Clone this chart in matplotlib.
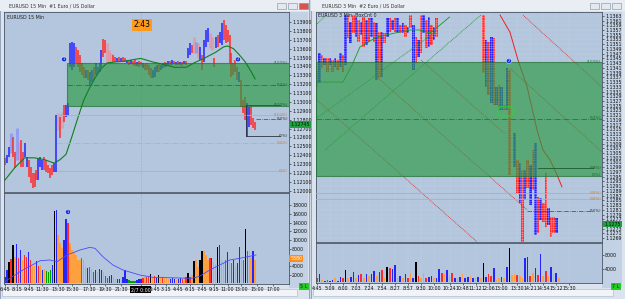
import numpy as np
import matplotlib.pyplot as plt
import matplotlib.transforms as mtransforms
from matplotlib.patches import Rectangle, FancyBboxPatch

# ---------------- left chart : EURUSD 15 min ----------------
hi_l = [1.1237, 1.1240, 1.1249, 1.1265, 1.1261, 1.1244, 1.1271, 1.1255, 1.1257, 1.1244,
        1.1254, 1.1238, 1.1235, 1.1227, 1.1220, 1.1220, 1.1223, 1.1237, 1.1238, 1.1235,
        1.1238, 1.1235, 1.1229, 1.1226, 1.1229, 1.1231, 1.1285, 1.1288, 1.1283, 1.1289,
        1.1297, 1.1297, 1.1299, 1.1366, 1.1367, 1.1366, 1.1362, 1.1358, 1.1353, 1.1344,
        1.1339, 1.1336, 1.1336, 1.1334, 1.1336, 1.1339, 1.1344, 1.1339, 1.1344, 1.1358,
        1.1371, 1.1370, 1.1366, 1.1358, 1.1355, 1.1353, 1.1351, 1.1349, 1.1351, 1.1349,
        1.1351, 1.1349, 1.1347, 1.1347, 1.1347, 1.1346, 1.1347, 1.1345, 1.1346, 1.1345,
        1.1344, 1.1343, 1.1344, 1.1342, 1.1338, 1.1336, 1.1339, 1.1342, 1.1344, 1.1342,
        1.1344, 1.1345, 1.1344, 1.1346, 1.1346, 1.1347, 1.1346, 1.1345, 1.1346, 1.1345,
        1.1345, 1.1346, 1.1346, 1.1361, 1.1366, 1.1364, 1.1373, 1.1367, 1.1366, 1.1362,
        1.1353, 1.1370, 1.1381, 1.1383, 1.1378, 1.1373, 1.1349, 1.1373, 1.1375, 1.1379,
        1.1389, 1.1392, 1.1387, 1.1381, 1.1375, 1.1355, 1.1344, 1.1347, 1.1339, 1.1334,
        1.1325, 1.1302, 1.1306, 1.1299, 1.1294, 1.1297, 1.1282, 1.1277]
lo_l = [1.1229, 1.1231, 1.1238, 1.1243, 1.1238, 1.1226, 1.1235, 1.1235, 1.1227, 1.1227,
        1.1238, 1.1227, 1.1215, 1.1209, 1.1203, 1.1204, 1.1212, 1.1212, 1.1227, 1.1223,
        1.1223, 1.1221, 1.1220, 1.1214, 1.1218, 1.1221, 1.1221, 1.1268, 1.1259, 1.1271,
        1.1277, 1.1283, 1.1285, 1.1339, 1.1336, 1.1339, 1.1344, 1.1339, 1.1334, 1.1330,
        1.1327, 1.1327, 1.1325, 1.1319, 1.1322, 1.1325, 1.1330, 1.1333, 1.1334, 1.1339,
        1.1351, 1.1355, 1.1345, 1.1344, 1.1344, 1.1345, 1.1345, 1.1345, 1.1345, 1.1345,
        1.1345, 1.1345, 1.1344, 1.1342, 1.1343, 1.1342, 1.1340, 1.1340, 1.1339, 1.1340,
        1.1338, 1.1336, 1.1336, 1.1330, 1.1327, 1.1327, 1.1328, 1.1334, 1.1334, 1.1336,
        1.1338, 1.1339, 1.1339, 1.1342, 1.1340, 1.1342, 1.1343, 1.1342, 1.1342, 1.1342,
        1.1340, 1.1343, 1.1342, 1.1349, 1.1353, 1.1355, 1.1355, 1.1355, 1.1349, 1.1347,
        1.1336, 1.1345, 1.1362, 1.1367, 1.1361, 1.1358, 1.1339, 1.1361, 1.1362, 1.1366,
        1.1364, 1.1370, 1.1366, 1.1367, 1.1344, 1.1328, 1.1330, 1.1334, 1.1325, 1.1322,
        1.1294, 1.1288, 1.1280, 1.1261, 1.1272, 1.1274, 1.1271, 1.1268]
col_l = ("rbblrrlprr" "bbrrrrrbbb" "rrrrrbbprp" "rbbbbbrrrr" "rbrbbrbbbb" "rrppprrbrb"
         "rrbrbrrbrr" "brrrrbbbrb" "brbbrbrbrb" "rbrbbrplpb" "rbbbpprbrb" "brrrrrrrrb"
         "rrrbbrrr")

ma_l_x = [0, 5, 10, 15, 20, 25, 28, 31, 34, 37, 40, 43, 46, 49, 52, 56, 61, 66, 69, 72,
          75, 81, 86, 92, 96, 101, 107, 111, 113, 116, 119, 122, 125, 127]
ma_l_y = [1.1212, 1.1226, 1.1237, 1.1237, 1.1235, 1.1231, 1.1235, 1.1241, 1.1261, 1.1282,
          1.1302, 1.1316, 1.1328, 1.1338, 1.1344, 1.1345, 1.1346, 1.1348, 1.1349, 1.1347,
          1.1345, 1.1342, 1.1339, 1.1339, 1.1344, 1.1349, 1.1356, 1.1362, 1.1363, 1.1360,
          1.1353, 1.1345, 1.1334, 1.1326]

vol_l = [1380, 3070, 4990, 5540, 8840, 6140, 9070, 5770, 7680, 5380,
         6530, 6140, 7290, 5380, 3990, 3990, 5220, 3990, 4220, 3070,
         3230, 2910, 2680, 3070, 4220, 16750, 16900, 11140, 9230, 8070,
         9990, 14760, 13840, 9230, 7680, 7290, 6530, 5380, 5380, 5770,
         5380, 3830, 3460, 3690, 3230, 2680, 3070, 2680, 3230, 3070,
         2680, 1680, 1150, 1680, 1910, 1530, 920, 1070, 920, 760,
         1380, 3070, 920, 760, 600, 600, 600, 760, 920, 920,
         1150, 1380, 1380, 1680, 2140, 1380, 1680, 1150,
         1910, 1380, 1380, 1150, 1150, 920, 920, 1150, 920, 760,
         920, 1150, 920, 1380, 1380, 2450, 1380, 1910, 5220, 5380,
         3830, 5380, 7530, 7530, 6530, 5380, 5770, 5770, 4990, 4450,
         8450, 8840, 5380, 4990, 5380, 7290, 4990, 4610, 5380, 3990,
         4610, 8300, 5380, 5380, 12450, 7530, 7290, 6140, 7530, 5380]
vcol_l = ("bbkrkobrbo" "rrbroobrob" "ogggbkbooo" "bbroooooor" "oobrogbobb"
          "oggbboobbo" "bbbggggbbb" "rorrkorb"
          "korooobbbo" "bbrorkroko" "okkooorboo" "kboorborbo" "bborkroobo")
ma_v_x = [0, 7.6, 17.8, 22.8, 26.4, 31.5, 38.1, 43.1, 45.7, 49.7, 54.8, 59.9, 68.5,
          75.1, 95.4, 99, 104, 109, 114.2, 119.3, 127.4]
ma_v_y = [415, 2680, 5210, 5380, 4980, 6530, 7680, 8300, 8070, 6140, 4220, 3070, 1910,
          1380, 1150, 1680, 3070, 4220, 5380, 5770, 6530]

tick_l_pos = [0, 6, 12, 19, 27, 34, 43, 51, 59, 69, 76, 82, 88, 94, 100, 106, 113, 120, 128, 136]
tick_l_lab = ['6:45', '8:15', '9:45', '11:30', '13:30', '15:30', '17:30', '19:30', '21:30',
              '2/7 0:00', '1:45', '3:15', '4:45', '6:15', '7:45', '9:15', '11:00', '13:00',
              '15:00', '17:00']

zone = (1.12955, 1.13435)
# ---------------- right chart : EURUSD 3 min box chart ----------------
col_k = list(range(0, 47)) + list(range(64, 75)) + list(range(76, 93))
hi_r = [1.13401, 1.13473, 1.13464, 1.13451, 1.13451, 1.13451, 1.13443, 1.13451, 1.13443, 1.13473,
        1.13464, 1.13633, 1.13633, 1.13603, 1.13633, 1.13625, 1.13612, 1.13603, 1.13625, 1.13612,
        1.13620, 1.13620, 1.13603, 1.13599, 1.13561, 1.13561, 1.13557, 1.13620, 1.13620, 1.13612,
        1.13620, 1.13620, 1.13591, 1.13599, 1.13591, 1.13582, 1.13633, 1.13591, 1.13540, 1.13527,
        1.13633, 1.13633, 1.13612, 1.13625, 1.13591, 1.13582, 1.13620,
        1.13633, 1.13527, 1.13519, 1.13540, 1.13536, 1.13329, 1.13338, 1.13329, 1.13253, 1.13409,
        1.13401,
        1.13135, 1.13021, 1.13008, 1.12979, 1.12979, 1.13021, 1.12999, 1.13063, 1.13093, 1.12865,
        1.12861, 1.12840, 1.12966, 1.12818, 1.12780, 1.12780, 1.12776]
lo_r = [1.13329, 1.13346, 1.13409, 1.13422, 1.13392, 1.13422, 1.13392, 1.13413, 1.13401, 1.13413,
        1.13392, 1.13422, 1.13536, 1.13515, 1.13557, 1.13540, 1.13519, 1.13549, 1.13498, 1.13506,
        1.13519, 1.13540, 1.13519, 1.13359, 1.13367, 1.13371, 1.13515, 1.13540, 1.13561, 1.13570,
        1.13561, 1.13557, 1.13557, 1.13557, 1.13540, 1.13557, 1.13578, 1.13401, 1.13430, 1.13456,
        1.13473, 1.13557, 1.13494, 1.13498, 1.13506, 1.13527, 1.13540,
        1.13388, 1.13329, 1.13295, 1.13262, 1.13253, 1.13253, 1.13232, 1.13232, 1.13232, 1.13232,
        1.12958,
        1.12991, 1.12882, 1.12840, 1.12675, 1.12852, 1.12903, 1.12831, 1.12894, 1.12705, 1.12713,
        1.12768, 1.12759, 1.12738, 1.12747, 1.12696, 1.12713, 1.12713]
col_r = ("rbrbrbrbrb" "rbrbrbrbrb" "rbrbrbrbrb" "rbrbrbrbrb" "rbrbrbr"
         "rbrbrbrbrbr"
         "brbrbrbrbr" "brrbrrb")

vol_r = [1100, 2390, 600, 390, 600, 390, 600, 1100, 390, 1580,
         1100, 3580, 1100, 1580, 3080, 1100, 2090, 2390, 1100, 2390,
         1790, 2390, 3380, 1790, 3080, 3580, 1100, 4580, 4090, 3780,
         5070, 1100, 1790, 1100, 2390, 1100, 2590, 1100, 5970, 1790,
         1100, 2780, 1100, 1580, 1790, 1100, 1100, 3780, 2780, 2590,
         3580, 1790, 2780, 1100, 1100, 1580, 2390, 1100, 1580, 1790,
         1100, 1100, 1580, 1100, 5770, 1580, 2390, 1790, 4090, 600,
         1100, 1580, 1100, 4580, 10240, 2090, 2390, 2090, 1790, 1100,
         7070, 7370, 1790, 2780, 4090, 2090, 8360, 1790, 3380, 1790,
         4580, 2390, 2780, 1100]
vcol_r = ("rbobrbbobb" "rkobbobrob" "obbobrokrb" "bobobrobkr" "oorbbobbro"
          "borbobobbo" "bobokbrrbo" "obobkooroo" "bbrobrboro" "bobo")

ma_r_g_x = [0, 10, 13.5, 16.5, 23, 30, 35.8, 39.6, 43.5, 47.3, 51]
ma_r_g_y = [1.13350, 1.13350, 1.13422, 1.13498, 1.13540, 1.13557, 1.13570, 1.13570, 1.13557,
            1.13591, 1.13625]
ma_r_r_x = [70.4, 74.2, 77.3, 80.8, 84.6, 86.9, 89.6, 92.3, 94.2]
ma_r_r_y = [1.13633, 1.13561, 1.13443, 1.13329, 1.13148, 1.13063, 1.13021, 1.12958, 1.12907]

# trend lines (k0, p0, k1, p1, colour)
trend_r = [(-0.4, 1.13591, 3.5, 1.13633, 'g'), (3.1, 1.13063, 63.0, 1.13633, 'g'),
           (0.0, 1.13198, 45.4, 1.13561, 'g'),
           (0.0, 1.13274, 61.5, 1.12675, 'r'), (23.5, 1.13367, 80.8, 1.12810, 'r'),
           (40.0, 1.13443, 72.3, 1.13131, 'r'), (74.2, 1.13409, 109.6, 1.13054, 'r'),
           (79.2, 1.13633, 109.6, 1.13329, 'r')]

tick_r_pos = [0, 5, 10, 15, 20, 25, 30, 35, 40, 45, 51, 56, 61, 66, 71, 77, 82, 87, 92, 97]
tick_r_lab = ['4:45', '5:09', '6:00', '7:03', '7:24', '7:54', '8:27', '8:57', '9:30', '10:00',
              '10:24', '10:48', '11:12', '12:06', '13:00', '13:30', '14:21', '14:54', '15:12',
              '15:30']

# ------------------------------------------------------------------
W, H = 625, 299
fig = plt.figure(figsize=(W / 100, H / 100), dpi=100)
fig.patch.set_facecolor('#cdd8e6')
plt.rcParams['hatch.linewidth'] = 0.15

BG = '#b3c6dd'
GREEN = '#2f9a47'
clr = {'r': '#ff2a2a', 'b': '#2424ff', 'p': '#f08a96', 'l': '#7f86ff',
       'o': '#ffa040', 'k': '#000000', 'g': '#00a000'}
FS = 3.4


def px_axes(x0, y0, x1, y1):
    return fig.add_axes([x0 / W, 1 - y1 / H, (x1 - x0) / W, (y1 - y0) / H])


# window chrome
bg = fig.add_axes([0, 0, 1, 1], zorder=-5)
bg.set_xlim(0, W)
bg.set_ylim(H, 0)
bg.axis('off')
for x0, x1 in [(0, 309), (311, 625)]:
    bg.add_patch(Rectangle((x0, 0), x1 - x0, H, fc='#dbe3ee', ec='#8a9bb3', lw=0.6))
    bg.add_patch(Rectangle((x0, 0), x1 - x0, 11, fc='#e9eef5', ec='none'))
    bg.add_patch(Rectangle((x0 + 2, 289), x1 - x0 - 14, 7, fc='#f0f3f7', ec='#a8b5c6', lw=0.4))
bg.add_patch(Rectangle((289, 12), 19, 276, fc='#c2d1e3', ec='none'))
bg.add_patch(Rectangle((602, 12), 20, 276, fc='#c2d1e3', ec='none'))
bg.text(9, 6, 'EURUSD 15 Min  #1 Euro / US Dollar', fontsize=FS, va='center', color='#333333')
bg.text(322, 6, 'EURUSD 3 Min  #2 Euro / US Dollar', fontsize=FS, va='center', color='#333333')
for xb, fc in [(277, '#e4e9f0'), (288, '#e4e9f0'), (299, '#d9534f')]:
    bg.add_patch(Rectangle((xb, 3), 9, 6, fc=fc, ec='#7d8ba0', lw=0.4))
for xb in [590, 601, 612]:
    bg.add_patch(Rectangle((xb, 3), 9, 6, fc='#e4e9f0', ec='#7d8ba0', lw=0.4))
for xb, t in [(300, '5 L'), (612, '7 L')]:
    bg.text(xb + 4, 286.5, t, fontsize=FS, ha='center', va='center', color='#003300',
            bbox=dict(boxstyle='square,pad=0.25', fc='#22cc22', ec='none'))


def style(ax, xlim, ylim):
    ax.set_facecolor(BG)
    ax.set_xlim(*xlim)
    ax.set_ylim(*ylim)
    for s in ax.spines.values():
        s.set_color('#4a5564')
        s.set_linewidth(0.6)
    ax.yaxis.tick_right()
    ax.tick_params(axis='both', labelsize=FS, length=1.2, width=0.4, pad=1, colors='#111111')


# ---- left price panel
axp = px_axes(4, 12, 289, 192)
style(axp, (-0.5, 144.2), (1.11985, 1.14013))
axp.set_xticks([])
axp.set_yticks(np.arange(1.120, 1.1395, 0.001))
axp.yaxis.set_major_formatter(plt.FormatStrFormatter('%.5f'))
idx = np.arange(len(hi_l))
hi_a, lo_a = np.array(hi_l), np.array(lo_l)
for c, lw, a in [('p', 2.2, 0.6), ('l', 2.2, 0.6), ('r', 1.1, 1), ('b', 1.1, 1)]:
    m = np.array([ch == c for ch in col_l])
    axp.vlines(idx[m], lo_a[m], hi_a[m], color=clr[c], lw=lw, alpha=a, zorder=2)
axp.add_patch(Rectangle((31.6, zone[0]), 200, zone[1] - zone[0], fc=GREEN, alpha=0.68,
                        ec='#1f6e30', lw=0.8, zorder=3))
axp.plot([31.6, 145], [sum(zone) / 2] * 2, color='#1f7a2f', lw=0.6, ls='-.', zorder=4)
axp.plot(ma_l_x, ma_l_y, color='#0f7f1f', lw=0.8, zorder=4)
axp.axvline(69, color='#8c98a8', lw=0.4, ls=':', zorder=1)
# fib levels
axp.plot([26.4, 141], [1.12853] * 2, color='#f0a060', lw=0.6, zorder=4)
axp.plot([26.4, 141], [1.12534] * 2, color='#f0a060', lw=0.6, ls='-.', zorder=4)
axp.plot([26.4, 141], [1.12222] * 2, color='#f0a060', lw=0.6, zorder=4)
axp.plot([122.3, 122.3, 139.6], [1.1297, 1.12616, 1.12616], color='#2c3440', lw=0.6, zorder=4)
axp.plot([122.3, 139.6], [1.1297] * 2, color='#1f5a2a', lw=0.6, zorder=4)
axp.plot([127.4, 139.6], [1.12804] * 2, color='#3c4450', lw=0.5, ls='-.', zorder=4)
for p, t, c in [(1.13435, '(100%)', '#1f6e30'), (1.13195, '(50%)', '#1f6e30'),
                (1.1297, '(100%)', '#1f5a2a'), (1.12853, '(100%)', '#d08040'),
                (1.12804, '(50%)', '#333333'), (1.12616, '(0%)', '#333333'),
                (1.12534, '(50%)', '#d08040'), (1.12222, '(0%)', '#d08040')]:
    axp.text(143.8, p, t, fontsize=2.8, color=c, ha='right', va='center', zorder=5)
for i, p, t in [(30, 1.1348, '1'), (118.3, 1.1348, '2')]:
    axp.text(i, p, t, fontsize=2.6, color='white', ha='center', va='center', zorder=6,
             bbox=dict(boxstyle='circle,pad=0.15', fc='#1030e0', ec='white', lw=0.3))
axp.text(69.5, 1.1387, '2:43', fontsize=5.5, ha='center', va='center', zorder=6,
         bbox=dict(boxstyle='square,pad=0.2', fc='#ff9a1a', ec='none'))
axp.text(0.012, 0.985, 'EURUSD 15 Min', transform=axp.transAxes, fontsize=FS, va='top',
         color='#222222')
trl = mtransforms.blended_transform_factory(axp.transAxes, axp.transData)
axp.text(1.005, 1.12745, '1.12745', transform=trl, fontsize=FS, va='center', color='#002200',
         bbox=dict(boxstyle='square,pad=0.2', fc='#20a040', ec='none'), zorder=6)

# ---- left volume panel
axv = px_axes(4, 193, 289, 284)
style(axv, (-0.5, 144.2), (-160, 20830))
vidx = np.arange(len(vol_l))
axv.bar(vidx, vol_l, width=0.7, color=[clr[c] for c in vcol_l], zorder=2)
axv.plot(ma_v_x, ma_v_y, color='#4a4aff', lw=0.6, zorder=3)
axv.axvline(69, color='#8c98a8', lw=0.4, ls=':', zorder=1)
axv.set_yticks([2000, 4000, 8000, 10000, 12000, 14000, 16000, 18000])
axv.set_xticks(tick_l_pos)
axv.set_xticklabels(tick_l_lab)
for lab in axv.get_xticklabels():
    if lab.get_text().startswith('2/7'):
        lab.set_color('white')
        lab.set_bbox(dict(boxstyle='square,pad=0.15', fc='black', ec='none'))
axv.text(32, 16450, '1', fontsize=2.6, color='white', ha='center', va='center', zorder=6,
         bbox=dict(boxstyle='circle,pad=0.15', fc='#1030e0', ec='white', lw=0.3))
trv = mtransforms.blended_transform_factory(axv.transAxes, axv.transData)
axv.text(1.005, 5800, '5380', transform=trv, fontsize=FS, va='center', color='white',
         bbox=dict(boxstyle='square,pad=0.2', fc='#ff8c1a', ec='none'), zorder=6)

# ---- right price panel
axr = px_axes(316, 12, 602, 242)
style(axr, (-0.38, 109.6), (1.12674, 1.13646))
axr.set_xticks(tick_r_pos)
axr.tick_params(axis='x', labelbottom=False, length=0)
axr.set_yticks(np.arange(1.1269, 1.13635, 0.0002))
axr.yaxis.set_major_formatter(plt.FormatStrFormatter('%.4f'))
axr.grid(True, color='#c3d1e3', lw=0.35, zorder=0)
for k, h, l, c in zip(col_k, hi_r, lo_r, col_r):
    axr.bar(k, h - l, bottom=l, width=1.0, color=clr[c], edgecolor='white', lw=0,
            hatch='+++++++', zorder=2)
for k0, p0, k1, p1, c in trend_r:
    axr.plot([k0, k1], [p0, p1], color='#0f9a1f' if c == 'g' else '#ee2020', lw=0.6,
             ls=(0, (1, 1)), zorder=2.5)
axr.plot(ma_r_g_x, ma_r_g_y, color='#129a22', lw=0.6, zorder=2.6)
axr.plot(ma_r_r_x, ma_r_r_y, color='#ee2020', lw=0.7, zorder=2.6)
axr.axhspan(zone[0], zone[1], fc=GREEN, alpha=0.68, ec='#1f6e30', lw=0.8, zorder=3)
axr.axhline(sum(zone) / 2, color='#1f7a2f', lw=0.6, ls='-.', zorder=4)
axr.plot([85, 106], [1.12986] * 2, color='#1f5a2a', lw=0.6, zorder=4)
axr.axhline(1.12880, color='#f0a060', lw=0.6, zorder=4)
axr.axhline(1.12855, color='#f0a060', lw=0.6, zorder=4)
axr.plot([80.8, 106], [1.12805] * 2, color='#3c4450', lw=0.5, ls='-.', zorder=4)
for p, t, c in [(1.13436, '(100%)', '#1f6e30'), (1.13197, '(50%)', '#1f6e30'),
                (1.12986, '(38%)', '#1f5a2a'), (1.12958, '(0%)', '#1f6e30'),
                (1.12880, '(38%)', '#d08040'), (1.12855, '(38%)', '#d08040'),
                (1.12805, '(50%)', '#333333')]:
    axr.text(109.2, p, t, fontsize=2.8, color=c, ha='right', va='center', zorder=5)
axr.add_patch(FancyBboxPatch((69.5, 1.13207), 6.0, 0.00038,
                             boxstyle='round,pad=0,rounding_size=1.2', mutation_aspect=0.00011,
                             fc='none', ec='#22dd22', lw=0.8, zorder=5))
axr.text(73.8, 1.13439, '2', fontsize=2.6, color='white', ha='center', va='center', zorder=6,
         bbox=dict(boxstyle='circle,pad=0.15', fc='#1030e0', ec='white', lw=0.3))
axr.text(0.008, 0.995, 'EURUSD 3 Min  BoxCnt 0', transform=axr.transAxes, fontsize=FS,
         va='top', color='#222222', zorder=6)
trr = mtransforms.blended_transform_factory(axr.transAxes, axr.transData)
axr.text(1.008, 1.12750, '1.1275', transform=trr, fontsize=FS, va='center', color='#002200',
         bbox=dict(boxstyle='square,pad=0.2', fc='#20a040', ec='none'), zorder=6)

# ---- right volume panel
axw = px_axes(316, 243, 602, 283)
style(axw, (-0.38, 109.6), (-300, 11640))
axw.bar(np.arange(len(vol_r)), vol_r, width=0.6, color=[clr[c] for c in vcol_r], zorder=2)
axw.grid(True, axis='x', color='#c3d1e3', lw=0.35, zorder=0)
axw.set_yticks([4000, 8000])
axw.set_xticks(tick_r_pos)
axw.set_xticklabels(tick_r_lab)

fig.savefig('out.png', dpi=100, facecolor=fig.get_facecolor())
